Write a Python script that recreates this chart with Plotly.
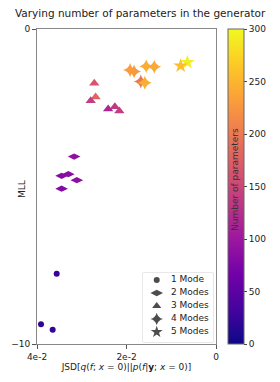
import plotly.graph_objects as go

# Data (JSD, MLL, number of parameters) per number of modes
m1_x = [0.0356, 0.0391, 0.0365]
m1_y = [-7.77, -9.37, -9.55]
m1_c = [25, 20, 22]

m2_x = [0.0317, 0.0345, 0.0330, 0.0311, 0.0345]
m2_y = [-4.05, -4.66, -4.61, -4.80, -5.07]
m2_c = [90, 82, 85, 88, 80]

m3_x = [0.0272, 0.0269, 0.0280, 0.0241, 0.0226, 0.0216]
m3_y = [-1.72, -2.16, -2.28, -2.54, -2.47, -2.60]
m3_c = [165, 178, 140, 115, 135, 140]

m4_x = [0.0192, 0.0183, 0.0156, 0.0138, 0.0168, 0.0159]
m4_y = [-1.30, -1.35, -1.18, -1.20, -1.67, -1.71]
m4_c = [232, 228, 245, 240, 198, 245]

m5_x = [0.0064, 0.0079]
m5_y = [-1.06, -1.17]
m5_c = [292, 258]

legend_names = ["1 Mode", "2 Modes", "3 Modes", "4 Modes", "5 Modes"]
symbols = ["circle", "diamond-wide", "triangle-up", "star-diamond", "star"]
sizes = [6, 9, 9, 10, 11]
legend_sizes = [6, 9, 8, 9, 9]

groups = list(zip(legend_names, [m1_x, m2_x, m3_x, m4_x, m5_x],
                  [m1_y, m2_y, m3_y, m4_y, m5_y], [m1_c, m2_c, m3_c, m4_c, m5_c],
                  symbols, sizes))

FONT = "DejaVu Sans"
# page body has an 8px margin: shift everything up/left by 8px
OFF = 8
W, H = 280 - OFF, 382 - OFF
PL, PR, PT, PB = 37, 216, 29, 344   # plot area in window pixels
PW, PH = PR - PL, PB - PT


def fx(px):
    return (px - PL) / PW


def fy(py):
    return (PB - py) / PH


fig = go.Figure()
for i, (name, xs, ys, cs, sym, sz) in enumerate(groups):
    fig.add_trace(go.Scatter(
        x=xs, y=ys, mode="markers", showlegend=False, name=name,
        marker=dict(symbol=sym, size=sz, color=cs, colorscale="Plasma",
                    cmin=0, cmax=300, line=dict(width=0),
                    showscale=(i == 0),
                    colorbar=dict(x=fx(228), xanchor="left", y=0, yanchor="bottom",
                                  len=1, lenmode="fraction", thickness=16,
                                  thicknessmode="pixels", outlinewidth=1,
                                  outlinecolor="#666", ticks="outside", ticklen=3,
                                  tickcolor="#444", tickvals=[0, 50, 100, 150, 200, 250, 300],
                                  tickfont=dict(family=FONT, size=9, color="#222"),
                                  xpad=0, ypad=0))))

# custom legend (compact, matplotlib-like)
LX0, LX1, LY0, LY1 = 143, 213, 273, 342
leg_y = [0.899, 0.710, 0.522, 0.333, 0.145]
fig.add_trace(go.Scatter(
    x=[0.196] * 5, y=leg_y, mode="markers", showlegend=False, hoverinfo="skip",
    xaxis="x2", yaxis="y2",
    marker=dict(symbol=symbols, size=legend_sizes, color="black", line=dict(width=0))))
fig.add_trace(go.Scatter(
    x=[0.40] * 5, y=leg_y, mode="text", text=legend_names, textposition="middle right",
    showlegend=False, hoverinfo="skip", xaxis="x2", yaxis="y2",
    textfont=dict(family=FONT, size=9, color="#222")))
fig.add_shape(type="rect", xref="x domain", yref="y domain",
              x0=fx(LX0), x1=fx(LX1), y0=fy(LY1), y1=fy(LY0),
              line=dict(color="#d0d0d0", width=1), fillcolor="white", layer="below")

ann = dict(xref="x domain", yref="y domain", showarrow=False,
           xanchor="center", yanchor="middle")
fig.add_annotation(x=fx(235), y=fy(180), text="Number of parameters", textangle=-90,
                   font=dict(family=FONT, size=9, color="#333"), **ann)
fig.add_annotation(x=fx(140), y=fy(13), text="Varying number of parameters in the generator",
                   font=dict(family=FONT, size=10.5, color="#222"), **ann)
fig.add_annotation(x=fx(22), y=fy(189), text="MLL", textangle=-90,
                   font=dict(family=FONT, size=9, color="#222"), **ann)

fig.update_layout(
    width=W, height=H,
    margin=dict(l=PL - OFF, r=W - (PR - OFF), t=PT - OFF, b=H - (PB - OFF), autoexpand=False),
    paper_bgcolor="white", plot_bgcolor="white",
    font=dict(family=FONT, size=9, color="#222"),
    showlegend=False,
    xaxis=dict(range=[0.04, 0], tickvals=[0.04, 0.02, 0], ticktext=["4e-2", "2e-2", "0"],
               showgrid=False, zeroline=False, showline=True, mirror=True, linecolor="#888",
               ticks="outside", ticklen=4, tickcolor="#555",
               title=dict(text="JSD[<i>q</i>(<i>f</i>; <i>x</i> = 0)||<i>p</i>(<i>f</i>|<b>y</b>; <i>x</i> = 0)]",
                          font=dict(family=FONT, size=9), standoff=2)),
    yaxis=dict(range=[-10, 0], tickvals=[0, -10], ticktext=["0", "\u221210"],
               showgrid=False, zeroline=False, showline=True, mirror=True, linecolor="#888",
               ticks="outside", ticklen=4, tickcolor="#555"),
    xaxis2=dict(domain=[fx(LX0), fx(LX1)], range=[0, 1], visible=False, anchor="y2",
                fixedrange=True),
    yaxis2=dict(domain=[fy(LY1), fy(LY0)], range=[0, 1], visible=False, anchor="x2",
                fixedrange=True),
)

fig.write_html("out.html")
